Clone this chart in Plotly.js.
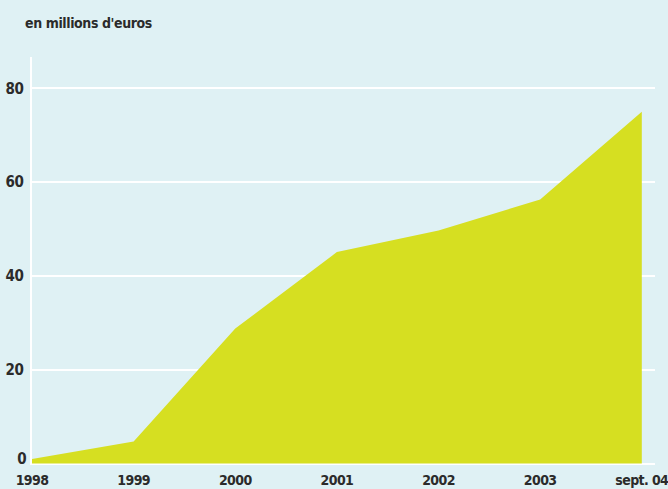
<!DOCTYPE html>
<html>
<head>
<meta charset="utf-8">
<script src="https://cdn.plot.ly/plotly-3.0.1.min.js"></script>
<style>
html,body{margin:0;padding:0;background:#dff1f4;}
#chart{width:668px;height:489px;}
#chart text{font-stretch:condensed !important; letter-spacing:-0.4px;}
#chart .xtick text{letter-spacing:-0.6px;}
</style>
</head>
<body>
<div id="chart"></div>
<script>
var categories = ["1998", "1999", "2000", "2001", "2002", "2003", "sept. 04"];
var values = [1.0, 4.7, 28.8, 45.1, 49.7, 56.3, 75.0];
var yTicks = [0, 20, 40, 60, 80];
var titleText = "en millions d'euros";

var xIdx = categories.map(function(_, i){ return i; });

var fam = "'Liberation Sans Narrow', 'DejaVu Sans Condensed', 'DejaVu Sans', sans-serif";
var font = {family: fam, size: 15, color: "#2b2b2b", weight: "bold"};
var xfont = {family: fam, size: 14, color: "#2b2b2b", weight: "bold"};

var trace = {
  x: xIdx,
  y: values,
  type: "scatter",
  mode: "none",
  fill: "tozeroy",
  fillcolor: "#d6df21",
  hoverinfo: "skip"
};

// the "0" label sits slightly raised above its gridline, as in the reference
var zeroAnn = {
  xref: "paper", yref: "y",
  x: 0, y: yTicks[0],
  text: String(yTicks[0]),
  showarrow: false,
  xanchor: "right", yanchor: "middle",
  xshift: -4, yshift: 5,
  font: font
};

var layout = {
  width: 668,
  height: 489,
  paper_bgcolor: "#dff1f4",
  plot_bgcolor: "#dff1f4",
  margin: {l: 32, r: 13, t: 57, b: 24},
  showlegend: false,
  font: font,
  title: {
    text: titleText,
    font: {family: fam, size: 14, color: "#2b2b2b", weight: "bold"},
    xref: "container", yref: "container",
    x: 25/668, xanchor: "left",
    y: 1 - 23/489, yanchor: "middle"
  },
  annotations: [zeroAnn],
  xaxis: {
    range: [0, 6.13],
    tickmode: "array",
    tickvals: xIdx,
    ticktext: categories,
    showgrid: false,
    zeroline: false,
    showline: false,
    ticks: "",
    tickfont: xfont,
    ticklabelstandoff: 5,
    ticklabeloverflow: "allow",
    fixedrange: true
  },
  yaxis: {
    range: [-0.3, 86.7],
    tickmode: "array",
    tickvals: yTicks,
    ticktext: yTicks.map(function(v, i){ return i === 0 ? "" : String(v); }),
    showgrid: true,
    gridcolor: "#ffffff",
    gridwidth: 2,
    zeroline: false,
    showline: true,
    linecolor: "#ffffff",
    linewidth: 2.5,
    ticks: "",
    tickfont: font,
    ticklabelstandoff: 3,
    fixedrange: true
  }
};

Plotly.newPlot("chart", [trace], layout, {displayModeBar: false, staticPlot: true});
</script>
</body>
</html>
